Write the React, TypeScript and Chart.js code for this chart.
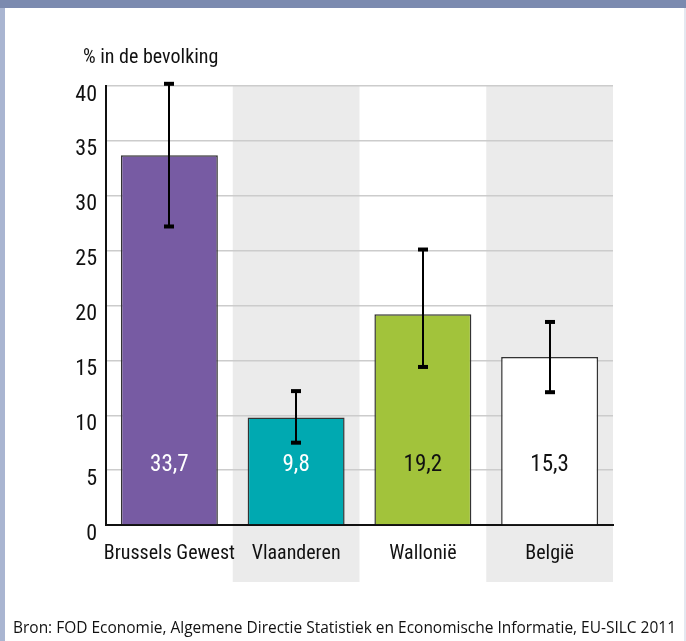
import React, { useEffect, useRef } from "react";
import { Chart, registerables } from "chart.js";

Chart.register(...registerables);

const categories = ["Brussels Gewest", "Vlaanderen", "Wallonië", "België"];
const values = [33.7, 9.8, 19.2, 15.3];
const errLow = [27.2, 7.5, 14.4, 12.1];
const errHigh = [40.2, 12.2, 25.1, 18.5];
const valueLabels = ["33,7", "9,8", "19,2", "15,3"];
const barColors = ["#775BA3", "#00A9B1", "#A2C33B", "#FFFFFF"];
const labelColors = ["#FFFFFF", "#FFFFFF", "#111111", "#111111"];
const yTicks = [0, 5, 10, 15, 20, 25, 30, 35, 40];
const yTitle = "% in de bevolking";
const source =
  "Bron: FOD Economie, Algemene Directie Statistiek en Economische Informatie, EU-SILC 2011";

const NARROW = '"Liberation Sans Narrow", "Roboto Condensed", "Liberation Sans", sans-serif';
const REG = '"Open Sans", "Liberation Sans", sans-serif';

const W = 686;
const H = 641;

const framePlugin = {
  id: "frame",
  beforeDraw(chart: any) {
    const { ctx, chartArea } = chart;
    ctx.save();
    ctx.fillStyle = "#FFFFFF";
    ctx.fillRect(0, 0, W, H);
    const n = categories.length;
    const cw = (chartArea.right - chartArea.left) / n;
    ctx.fillStyle = "#EBEBEB";
    for (let i = 0; i < n; i++) {
      if (i % 2 === 1) {
        const l = chartArea.left + cw * i;
        ctx.fillRect(l, chartArea.top, cw, 582 - chartArea.top);
      }
    }
    ctx.fillStyle = "#7B8AAF";
    ctx.fillRect(0, 0, W, 8);
    ctx.fillStyle = "#A9B5D1";
    ctx.fillRect(0, 8, 5, H - 8);
    ctx.fillStyle = "#E4E8F0";
    ctx.fillRect(W - 2, 8, 2, H - 8);
    ctx.fillStyle = "#111111";
    ctx.font = `20px ${NARROW}`;
    ctx.textBaseline = "middle";
    ctx.textAlign = "left";
    ctx.fillText(yTitle, 83, 58);
    ctx.font = `17px ${REG}`;
    const tw = ctx.measureText(source).width;
    const target = 663;
    ctx.translate(13, 628);
    ctx.scale(target / tw, 1);
    ctx.fillText(source, 0, 0);
    ctx.restore();
  },
  afterDatasetsDraw(chart: any) {
    const { ctx, scales, chartArea } = chart;
    const meta = chart.getDatasetMeta(0);
    ctx.save();
    ctx.strokeStyle = "#000000";
    ctx.fillStyle = "#000000";
    ctx.lineWidth = 2;
    meta.data.forEach((bar: any, i: number) => {
      const cx = Math.round(bar.x);
      const yl = scales.y.getPixelForValue(errLow[i]);
      const yh = scales.y.getPixelForValue(errHigh[i]);
      ctx.beginPath();
      ctx.moveTo(cx, yl);
      ctx.lineTo(cx, yh);
      ctx.stroke();
      ctx.fillRect(cx - 5, yh - 2, 10, 4);
      ctx.fillRect(cx - 5, yl - 2, 10, 4);
    });
    ctx.font = `23px ${NARROW}`;
    ctx.textAlign = "center";
    ctx.textBaseline = "middle";
    meta.data.forEach((bar: any, i: number) => {
      ctx.fillStyle = labelColors[i];
      ctx.fillText(valueLabels[i], bar.x, chartArea.bottom - 60);
    });
    ctx.restore();
  },
};

export default function App() {
  const ref = useRef<HTMLCanvasElement>(null);
  useEffect(() => {
    document.body.style.margin = "0";
    const chart = new Chart(ref.current as HTMLCanvasElement, {
      type: "bar",
      data: {
        labels: categories,
        datasets: [
          {
            data: values,
            backgroundColor: barColors,
            borderColor: "#333333",
            borderWidth: 1.5,
            barPercentage: 0.765,
            categoryPercentage: 1,
          },
        ],
      },
      options: {
        responsive: false,
        animation: false,
        devicePixelRatio: 1,
        layout: { padding: { left: 0, top: 86, right: 73, bottom: 0 } },
        plugins: {
          legend: { display: false },
          tooltip: { enabled: false },
          title: { display: false },
        },
        scales: {
          x: {
            afterFit: (s: any) => {
              s.height = 116;
            },
            grid: { display: false, drawTicks: false },
            border: { display: true, color: "#111111", width: 2 },
            ticks: {
              color: "#111111",
              font: { family: NARROW, size: 20 },
              padding: 17,
              maxRotation: 0,
              minRotation: 0,
              autoSkip: false,
            },
          },
          y: {
            min: 0,
            max: 40,
            afterFit: (s: any) => {
              s.width = 106;
            },
            afterBuildTicks: (s: any) => {
              s.ticks = yTicks.map((v) => ({ value: v }));
            },
            grid: { color: "#CCCCCC", lineWidth: 1.5, drawTicks: false },
            border: { display: true, color: "#111111", width: 2 },
            ticks: {
              color: "#111111",
              font: { family: NARROW, size: 22 },
              padding: 9,
              labelOffset: 9,
            },
          },
        },
      },
      plugins: [framePlugin],
    });
    return () => chart.destroy();
  }, []);
  return (
    <div style={{ position: "absolute", left: 0, top: 0, width: W, height: H }}>
      <canvas ref={ref} width={W} height={H} />
    </div>
  );
}
